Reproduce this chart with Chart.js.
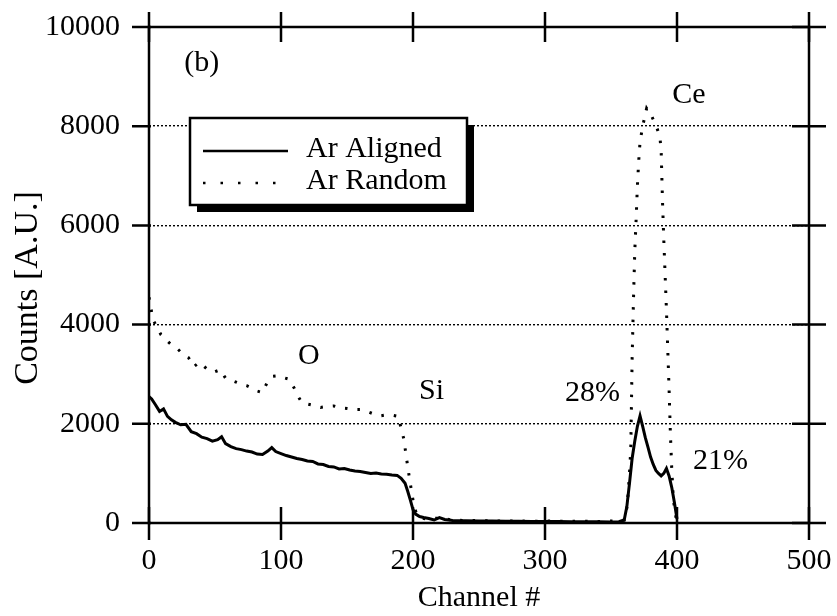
<!DOCTYPE html>
<html>
<head>
<meta charset="utf-8">
<title>RBS spectrum (b)</title>
<script src="https://cdn.jsdelivr.net/npm/chart.js@4.4.0/dist/chart.umd.min.js"></script>
<style>
  html, body { margin: 0; padding: 0; background: #fff; }
</style>
</head>
<body>
<canvas id="rbs" width="837" height="616"></canvas>
<script>
// channel / counts
const alignedChannels = [
  0, 2, 5, 8, 11, 14, 17, 20, 24, 28,
  32, 36, 40, 44, 48, 52, 55, 58, 62, 66,
  70, 74, 78, 82, 86, 90, 93, 96, 100, 104,
  108, 112, 116, 120, 124, 128, 132, 136, 140, 144,
  148, 152, 156, 160, 164, 168, 172, 176, 180, 184,
  188, 191, 194, 196, 198, 200, 202, 205, 208, 212,
  216, 220, 224, 230, 240, 250, 260, 270, 280, 290,
  300, 310, 320, 330, 340, 350, 356, 360, 362, 364,
  366, 368, 370, 372, 374, 376, 378, 380, 382, 384,
  386, 388, 390, 392, 394, 396, 398, 400
];
const alignedCounts = [
  2550, 2500, 2380, 2250, 2300, 2150, 2080, 2030, 1980, 1990,
  1840, 1800, 1730, 1700, 1650, 1680, 1740, 1600, 1540, 1500,
  1480, 1450, 1430, 1390, 1380, 1450, 1520, 1440, 1400, 1360,
  1330, 1300, 1280, 1250, 1240, 1190, 1180, 1140, 1130, 1090,
  1100, 1070, 1050, 1040, 1020, 1000, 1010, 990, 985, 970,
  960, 900, 800, 640, 460, 270, 180, 130, 110, 90,
  60, 110, 70, 50, 45, 40, 40, 35, 35, 30,
  30, 30, 25, 25, 25, 20, 25, 60, 330, 800,
  1300, 1650, 1950, 2160, 1950, 1720, 1530, 1330, 1180, 1060,
  1000, 950, 1000, 1100, 950, 720, 420, 80
];

const randomChannels = [
  0, 1, 3, 6, 9, 12, 15, 18, 22, 26,
  30, 34, 38, 42, 46, 50, 54, 58, 62, 66,
  70, 74, 78, 82, 86, 90, 94, 98, 102, 106,
  110, 113, 116, 120, 125, 130, 135, 140, 145, 150,
  155, 160, 165, 170, 175, 180, 185, 189, 191, 193,
  195, 197, 199, 201, 204, 210, 220, 230, 240, 250,
  260, 270, 280, 290, 300, 310, 320, 330, 340, 350,
  360, 362, 363, 364, 365, 366, 367, 368, 369, 370,
  371, 372, 374, 377, 381, 384, 387, 388, 389, 390,
  391, 392, 393, 394, 395, 396, 397, 398, 400
];
const randomCounts = [
  4550, 4400, 4100, 3950, 3800, 3720, 3640, 3570, 3500, 3400,
  3330, 3150, 3240, 3150, 3060, 3050, 3090, 2920, 2880, 2840,
  2800, 2770, 2720, 2660, 2630, 2860, 2960, 2970, 2930, 2900,
  2720, 2550, 2420, 2400, 2370, 2330, 2350, 2360, 2320, 2310,
  2290, 2290, 2250, 2200, 2160, 2180, 2170, 2150, 1900, 1700,
  1320, 960, 620, 300, 120, 80, 100, 60, 50, 50,
  40, 40, 40, 35, 40, 35, 35, 35, 30, 40,
  60, 300, 600, 1000, 1500, 3300, 4470, 5470, 6100, 6800,
  7300, 7690, 8000, 8360, 8190, 8020, 7800, 7500, 6500, 5700,
  5000, 4300, 3500, 2700, 1800, 1100, 600, 300, 0
];

const xTicks = [0, 100, 200, 300, 400, 500];
const yTicks = [0, 2000, 4000, 6000, 8000, 10000];
const noteTexts = ['(b)', 'O', 'Si', '28%', '21%', 'Ce'];

const SERIF = "'Liberation Serif', 'Times New Roman', serif";
Chart.defaults.font.family = SERIF;
Chart.defaults.color = '#000';

function toPoints(xs, ys) {
  return xs.map((x, i) => ({ x: x, y: ys[i] }));
}

// box, ticks, legend and labels drawn on top
const decorations = {
  id: 'decorations',
  afterDraw(chart) {
    const ctx = chart.ctx;
    const sx = chart.scales.x, sy = chart.scales.y;
    const L = sx.getPixelForValue(0), R = sx.getPixelForValue(500);
    const T = sy.getPixelForValue(10000), B = sy.getPixelForValue(0);
    ctx.save();
    ctx.strokeStyle = '#000';
    ctx.fillStyle = '#000';
    ctx.lineWidth = 2.5;
    ctx.strokeRect(L, T, R - L, B - T);

    ctx.beginPath();
    xTicks.forEach(v => {
      const px = sx.getPixelForValue(v);
      ctx.moveTo(px, B - 16); ctx.lineTo(px, B + 17);
      ctx.moveTo(px, T - 15); ctx.lineTo(px, T + 15);
    });
    yTicks.forEach(v => {
      const py = sy.getPixelForValue(v);
      ctx.moveTo(L - 17, py); ctx.lineTo(L + 2, py);
      ctx.moveTo(R - 17, py); ctx.lineTo(R + 17, py);
    });
    ctx.stroke();

    // peak labels
    const notePos = [[40, 9270], [121, 3370], [214, 2660], [336, 2620], [433, 1250], [409, 8630]];
    ctx.font = '30px ' + SERIF;
    ctx.textAlign = 'center';
    ctx.textBaseline = 'middle';
    noteTexts.forEach((t, i) => {
      ctx.fillText(t, sx.getPixelForValue(notePos[i][0]), sy.getPixelForValue(notePos[i][1]));
    });

    // y axis title
    ctx.save();
    ctx.translate(28, 288);
    ctx.rotate(-Math.PI / 2);
    ctx.font = '34px ' + SERIF;
    ctx.fillText('Counts [A.U.]', 0, 0);
    ctx.restore();

    // legend with drop shadow
    const lx = 190, ly = 118, lw = 277, lh = 87;
    ctx.fillRect(lx + 7, ly + 7, lw, lh);
    ctx.fillStyle = '#fff';
    ctx.fillRect(lx, ly, lw, lh);
    ctx.lineWidth = 2.5;
    ctx.strokeRect(lx, ly, lw, lh);
    ctx.fillStyle = '#000';
    ctx.textAlign = 'left';
    ctx.font = '30px ' + SERIF;
    chart.data.datasets.forEach((ds, i) => {
      const y = ly + 31 + i * 32;
      ctx.save();
      ctx.lineWidth = 2.5;
      ctx.setLineDash(i ? [2.5, 15] : []);
      ctx.beginPath();
      ctx.moveTo(lx + 13, y + 2);
      ctx.lineTo(lx + 98, y + 2);
      ctx.stroke();
      ctx.restore();
      ctx.fillText(ds.label, lx + 116, y);
    });
    ctx.restore();
  }
};

new Chart(document.getElementById('rbs'), {
  type: 'line',
  data: {
    datasets: [
      {
        label: 'Ar Aligned',
        data: toPoints(alignedChannels, alignedCounts),
        borderColor: '#000',
        borderWidth: 3,
        pointRadius: 0,
        tension: 0,
        fill: false
      },
      {
        label: 'Ar Random',
        data: toPoints(randomChannels, randomCounts),
        borderColor: '#000',
        borderWidth: 3,
        borderDash: [2.5, 10],
        pointRadius: 0,
        tension: 0,
        fill: false
      }
    ]
  },
  options: {
    responsive: false,
    animation: false,
    devicePixelRatio: 1,
    layout: { padding: { top: 27, right: 28, left: 0, bottom: 0 } },
    plugins: { legend: { display: false }, tooltip: { enabled: false } },
    scales: {
      x: {
        type: 'linear',
        min: 0,
        max: 500,
        ticks: { stepSize: 100, font: { size: 30 }, padding: 20, maxRotation: 0, callback: v => String(v) },
        grid: { display: false, drawTicks: false },
        border: { display: false },
        title: { display: true, text: 'Channel #', font: { size: 30 }, padding: { top: 0, bottom: 0 } },
        afterFit(scale) {
          scale.height = 93;
          scale.paddingLeft = 0;
          scale.paddingRight = 0;
        }
      },
      y: {
        min: 0,
        max: 10000,
        ticks: { stepSize: 2000, font: { size: 30 }, padding: 29, callback: v => String(v) },
        grid: { color: '#000', lineWidth: 1.4, drawTicks: false },
        border: { display: false, dash: [2, 2] },
        afterFit(scale) {
          scale.width = 149;
          scale.paddingTop = 0;
          scale.paddingBottom = 0;
        }
      }
    }
  },
  plugins: [decorations]
});
</script>
</body>
</html>
